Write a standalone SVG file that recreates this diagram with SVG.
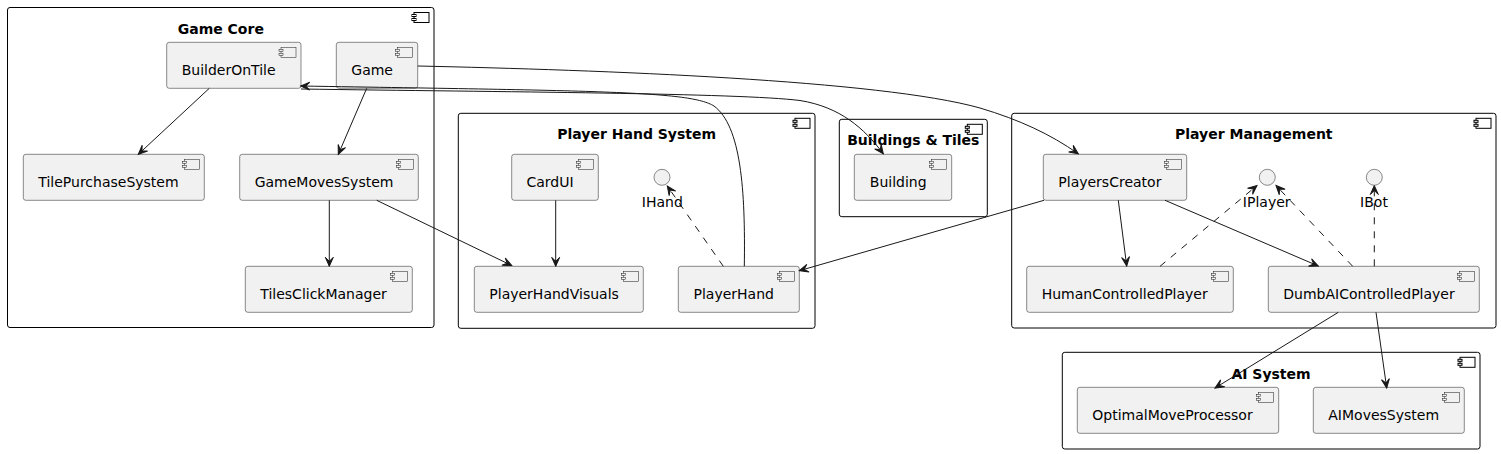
<svg xmlns="http://www.w3.org/2000/svg" width="1501" height="454" viewBox="0 0 1501 454">
<style>
.pkg{fill:none;stroke:#000;stroke-width:1}
.pkgicon{fill:#fff;stroke:#000;stroke-width:1}
.ptitle{font-family:"DejaVu Sans",sans-serif;font-size:14px;font-weight:bold;fill:#000;text-anchor:middle}
.node{fill:#F1F1F1;stroke:#181818;stroke-width:0.5}
.nicon{fill:#F1F1F1;stroke:#181818;stroke-width:0.5}
.lbl{font-family:"DejaVu Sans",sans-serif;font-size:14px;fill:#000}
.ilbl{font-family:"DejaVu Sans",sans-serif;font-size:14px;fill:#000;text-anchor:middle}
.iface{fill:#F1F1F1;stroke:#181818;stroke-width:0.5}
.edge{fill:none;stroke:#181818;stroke-width:1}
.dash{fill:none;stroke:#181818;stroke-width:1;stroke-dasharray:7,7}
</style>
<defs>
<marker id="arr" viewBox="0 0 12 12" refX="10" refY="6" markerWidth="12" markerHeight="12" markerUnits="userSpaceOnUse" orient="auto">
<path d="M1,2 L10,6 L1,10 L5,6 Z" fill="#181818" stroke="#181818" stroke-width="1"/>
</marker>
<g id="nic"><rect class="nicon" x="-20" y="5" width="15" height="10"/><rect class="nicon" x="-22" y="7" width="4" height="2"/><rect class="nicon" x="-22" y="11" width="4" height="2"/></g>
<g id="pic"><rect class="pkgicon" x="-20" y="5" width="15" height="10"/><rect class="pkgicon" x="-22" y="7" width="4" height="2"/><rect class="pkgicon" x="-22" y="11" width="4" height="2"/></g>
</defs>

<g id="pkg-game-core">
<rect class="pkg" x="7.5" y="7.5" width="426.5" height="320" rx="2.5"/>
<use href="#pic" x="434" y="7.5"/>
<text class="ptitle" x="220.8" y="33.5">Game Core</text>
</g>
<g id="pkg-player-hand">
<rect class="pkg" x="458.3" y="113.3" width="356.7" height="215" rx="2.5"/>
<use href="#pic" x="815" y="113.3"/>
<text class="ptitle" x="636.7" y="139.3">Player Hand System</text>
</g>
<g id="pkg-buildings">
<rect class="pkg" x="839.3" y="119.3" width="148" height="97.4" rx="2.5"/>
<use href="#pic" x="987.3" y="119.3"/>
<text class="ptitle" x="913.3" y="145.3">Buildings &amp; Tiles</text>
</g>
<g id="pkg-player-mgmt">
<rect class="pkg" x="1011.7" y="113.3" width="484.3" height="214.7" rx="2.5"/>
<use href="#pic" x="1496" y="113.3"/>
<text class="ptitle" x="1253.8" y="139.3">Player Management</text>
</g>
<g id="pkg-ai">
<rect class="pkg" x="1062.3" y="352.3" width="417.7" height="96.7" rx="2.5"/>
<use href="#pic" x="1480" y="352.3"/>
<text class="ptitle" x="1271" y="378.5">AI System</text>
</g>

<g id="BuilderOnTile"><rect class="node" x="166.7" y="42.3" width="134.3" height="46" rx="2.5"/><use href="#nic" x="301" y="42.3"/><text class="lbl" x="181.7" y="75">BuilderOnTile</text></g>
<g id="Game"><rect class="node" x="336.3" y="42.3" width="81.4" height="46" rx="2.5"/><use href="#nic" x="417.7" y="42.3"/><text class="lbl" x="351.3" y="75">Game</text></g>
<g id="TilePurchaseSystem"><rect class="node" x="23.3" y="154.3" width="181" height="46" rx="2.5"/><use href="#nic" x="204.3" y="154.3"/><text class="lbl" x="38.3" y="187">TilePurchaseSystem</text></g>
<g id="GameMovesSystem"><rect class="node" x="239.7" y="154.3" width="178.6" height="46" rx="2.5"/><use href="#nic" x="418.3" y="154.3"/><text class="lbl" x="254.7" y="187">GameMovesSystem</text></g>
<g id="TilesClickManager"><rect class="node" x="245.3" y="266.3" width="167" height="46" rx="2.5"/><use href="#nic" x="412.3" y="266.3"/><text class="lbl" x="260.3" y="299">TilesClickManager</text></g>

<g id="CardUI"><rect class="node" x="511.7" y="154.3" width="86.6" height="46" rx="2.5"/><use href="#nic" x="598.3" y="154.3"/><text class="lbl" x="526.5" y="187">CardUI</text></g>
<g id="IHand"><circle class="iface" cx="662" cy="177.3" r="8"/><text class="ilbl" x="662.3" y="207">IHand</text></g>
<g id="PlayerHandVisuals"><rect class="node" x="474.3" y="266.3" width="169" height="46" rx="2.5"/><use href="#nic" x="643.3" y="266.3"/><text class="lbl" x="489.3" y="299">PlayerHandVisuals</text></g>
<g id="PlayerHand"><rect class="node" x="678.3" y="266.3" width="121" height="46" rx="2.5"/><use href="#nic" x="799.3" y="266.3"/><text class="lbl" x="693.5" y="299">PlayerHand</text></g>

<g id="Building"><rect class="node" x="854.3" y="154.3" width="97.4" height="46" rx="2.5"/><use href="#nic" x="951.7" y="154.3"/><text class="lbl" x="869.8" y="187">Building</text></g>

<g id="PlayersCreator"><rect class="node" x="1043.3" y="154.3" width="143.4" height="46" rx="2.5"/><use href="#nic" x="1186.7" y="154.3"/><text class="lbl" x="1058.3" y="187">PlayersCreator</text></g>
<g id="IPlayer"><circle class="iface" cx="1267.3" cy="177.3" r="8"/><text class="ilbl" x="1266.7" y="207">IPlayer</text></g>
<g id="IBot"><circle class="iface" cx="1374.3" cy="177.3" r="8"/><text class="ilbl" x="1374" y="207">IBot</text></g>
<g id="HumanControlledPlayer"><rect class="node" x="1026.7" y="266.3" width="206.6" height="46" rx="2.5"/><use href="#nic" x="1233.3" y="266.3"/><text class="lbl" x="1041.7" y="299">HumanControlledPlayer</text></g>
<g id="DumbAIControlledPlayer"><rect class="node" x="1268.3" y="266.3" width="211" height="46" rx="2.5"/><use href="#nic" x="1479.3" y="266.3"/><text class="lbl" x="1283.3" y="299">DumbAIControlledPlayer</text></g>

<g id="OptimalMoveProcessor"><rect class="node" x="1077.3" y="387.3" width="201.4" height="46" rx="2.5"/><use href="#nic" x="1278.7" y="387.3"/><text class="lbl" x="1092.3" y="420">OptimalMoveProcessor</text></g>
<g id="AIMovesSystem"><rect class="node" x="1313.3" y="387.3" width="151" height="46" rx="2.5"/><use href="#nic" x="1464.3" y="387.3"/><text class="lbl" x="1328.3" y="420">AIMovesSystem</text></g>

<g id="connectors">
<path class="edge" marker-end="url(#arr)" d="M209.3,88.3 L138.3,154.3"/>
<path class="edge" marker-end="url(#arr)" d="M366.7,88.3 L338.3,154.3"/>
<path class="edge" marker-end="url(#arr)" d="M329.3,200.3 L329.3,266.3"/>
<path class="edge" marker-end="url(#arr)" d="M376.7,200.3 L511.7,265.5"/>
<path class="edge" marker-end="url(#arr)" d="M555.7,200.3 L555.7,266.3"/>
<path class="dash" marker-end="url(#arr)" d="M723.3,266.3 L667.3,186"/>
<path class="edge" marker-end="url(#arr)" d="M744.3,266.3 C745.5,190 741,126 714,106 C690,91 600,91 300.7,86"/>
<path class="edge" marker-end="url(#arr)" d="M301,89 C500,92 740,93 800,100.5 C840,107 864,128 883.3,153.8"/>
<path class="edge" marker-end="url(#arr)" d="M417.7,66 C600,70 880,80 980,108 C1020,120 1050,134 1078.3,153.8"/>
<path class="edge" marker-end="url(#arr)" d="M1044,200.3 L799.3,270.7"/>
<path class="edge" marker-end="url(#arr)" d="M1118.3,200.3 L1126.7,266"/>
<path class="edge" marker-end="url(#arr)" d="M1165,200.3 L1318.3,266"/>
<path class="dash" marker-end="url(#arr)" d="M1160,266.3 L1257,185.5"/>
<path class="dash" marker-end="url(#arr)" d="M1352.7,266.3 L1276,185.5"/>
<path class="dash" marker-end="url(#arr)" d="M1374.3,266.3 L1374.3,185.5"/>
<path class="edge" marker-end="url(#arr)" d="M1338.3,312.3 L1215,388"/>
<path class="edge" marker-end="url(#arr)" d="M1376,312.3 L1386.7,388"/>
</g>
</svg>
